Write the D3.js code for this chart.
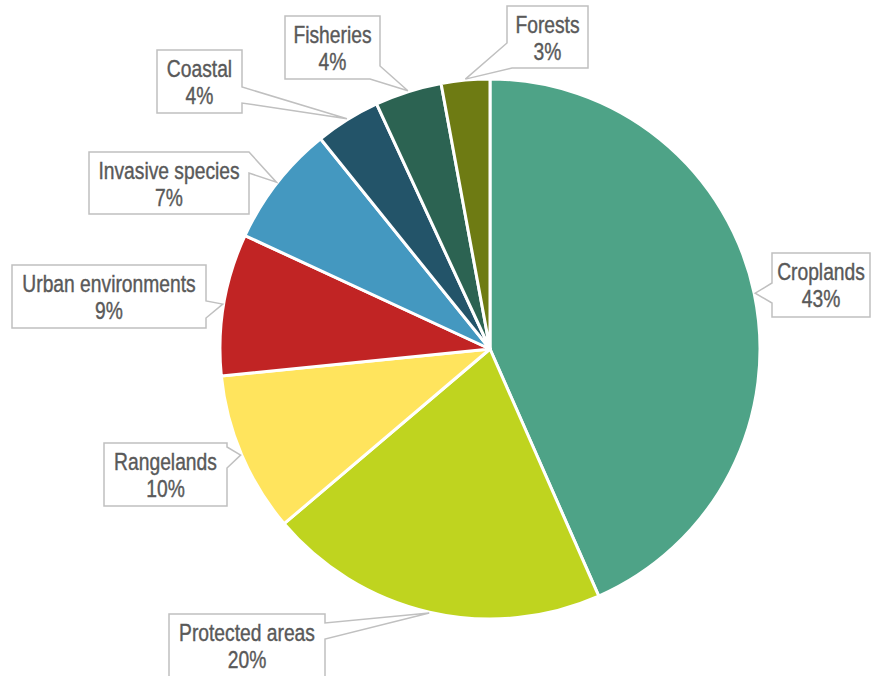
<!DOCTYPE html>
<html>
<head>
<meta charset="utf-8">
<script src="https://cdn.jsdelivr.net/npm/d3@7"></script>
<style>
  body { margin: 0; background: #fff; }
</style>
</head>
<body>
<svg id="pieChart"></svg>
<script>
// data (share of total, %)
var categories = ["Croplands", "Protected areas", "Rangelands", "Urban environments",
                  "Invasive species", "Coastal", "Fisheries", "Forests"];
var values = [43.4, 20.4, 9.6, 8.5, 7.3, 3.9, 4.0, 2.9];
var colors = ["#4ea387", "#bfd41f", "#ffe45d", "#c12424", "#4498c0", "#235469", "#2c6352", "#6e7b13"];

var width = 871, height = 676;
var cx = 490, cy = 349, radius = 270;
var narrow = 0.82; // horizontal squeeze, no condensed font installed

// callout boxes: x, y, w, h and where the pointer leaves the box
// (p0, p1 = distance along the box outline, clockwise from top-left corner)
var boxes = [
  {x: 772, y: 253, w: 98,  h: 64, p0: 2 * 98 + 64 + 14, p1: 2 * 98 + 64 + 34},
  {x: 169, y: 614, w: 156, h: 64, p0: 156 + 9,  p1: 156 + 25},
  {x: 104, y: 443, w: 123, h: 63, p0: 123 + 4,  p1: 123 + 25},
  {x: 12,  y: 265, w: 194, h: 63, p0: 194 + 36, p1: 194 + 53},
  {x: 89,  y: 152, w: 160, h: 62, p0: 160 + 0,  p1: 160 + 21},
  {x: 157, y: 50,  w: 85,  h: 63, p0: 85 + 37,  p1: 85 + 53},
  {x: 285, y: 16,  w: 95,  h: 63, p0: 95 + 50,  p1: 95 + 63 + 10},
  {x: 507, y: 6,   w: 81,  h: 62, p0: 2 * 81 + 62 - 5, p1: 2 * 81 + 62 + 25}
];

var svg = d3.select("#pieChart")
    .attr("width", width)
    .attr("height", height)
    .style("font-family", "'Liberation Sans', Arial, sans-serif");

var pie = d3.pie().sort(null).value(function(d) { return d; });
var arcs = pie(values);

var arc = d3.arc()
    .innerRadius(0)
    .outerRadius(radius);

var g = svg.append("g")
    .attr("transform", "translate(" + cx + "," + cy + ")");

g.selectAll("path.slice")
    .data(arcs)
    .enter()
    .append("path")
    .attr("class", "slice")
    .attr("fill", function(d, i) { return colors[i]; })
    .attr("stroke", "#fff")
    .attr("stroke-width", 3)
    .attr("stroke-linejoin", "round")
    .attr("d", arc);

// point on the box outline at distance p (clockwise from top-left)
function outlinePoint(b, p) {
  var per = 2 * b.w + 2 * b.h;
  p = ((p % per) + per) % per;
  if (p <= b.w) return [b.x + p, b.y];
  if (p <= b.w + b.h) return [b.x + b.w, b.y + (p - b.w)];
  if (p <= 2 * b.w + b.h) return [b.x + b.w - (p - b.w - b.h), b.y + b.h];
  return [b.x, b.y + b.h - (p - 2 * b.w - b.h)];
}

function calloutPath(b, tip) {
  var per = 2 * b.w + 2 * b.h;
  var p0 = b.p0, p1 = b.p1;
  var pts = [];
  var corners = [0, b.w, b.w + b.h, 2 * b.w + b.h];
  corners.forEach(function(c) {
    var cc = c;
    if (p1 > per && c < p1 - per) cc = c + per;
    if (!(cc > p0 && cc < p1)) pts.push({pos: cc, pt: outlinePoint(b, c)});
  });
  pts.push({pos: p0, pt: outlinePoint(b, p0)});
  pts.push({pos: (p0 + p1) / 2, pt: tip});
  pts.push({pos: p1, pt: outlinePoint(b, p1)});
  pts.sort(function(a, c) { return a.pos - c.pos; });
  return "M" + pts.map(function(d) { return d.pt.join(","); }).join("L") + "Z";
}

var labels = svg.selectAll("g.label")
    .data(arcs)
    .enter()
    .append("g")
    .attr("class", "label");

labels.append("path")
    .attr("fill", "#fff")
    .attr("stroke", "#c0c0c0")
    .attr("stroke-width", 1.5)
    .attr("d", function(d, i) {
      var a = (d.startAngle + d.endAngle) / 2;
      var tip = [cx + (radius + 1) * Math.sin(a), cy - (radius + 1) * Math.cos(a)];
      return calloutPath(boxes[i], tip);
    });

var txt = labels.append("g")
    .attr("transform", function(d, i) {
      return "translate(" + (boxes[i].x + boxes[i].w / 2) + "," + boxes[i].y + ") scale(" + narrow + ",1)";
    })
    .style("font-size", "23.5px")
    .style("fill", "#595959")
    .style("stroke", "#595959")
    .style("stroke-width", 0.4);

txt.append("text")
    .attr("y", 27)
    .attr("text-anchor", "middle")
    .text(function(d, i) { return categories[i]; });

txt.append("text")
    .attr("y", 54)
    .attr("text-anchor", "middle")
    .text(function(d) { return d3.format(".0f")(d.value) + "%"; });
</script>
</body>
</html>
